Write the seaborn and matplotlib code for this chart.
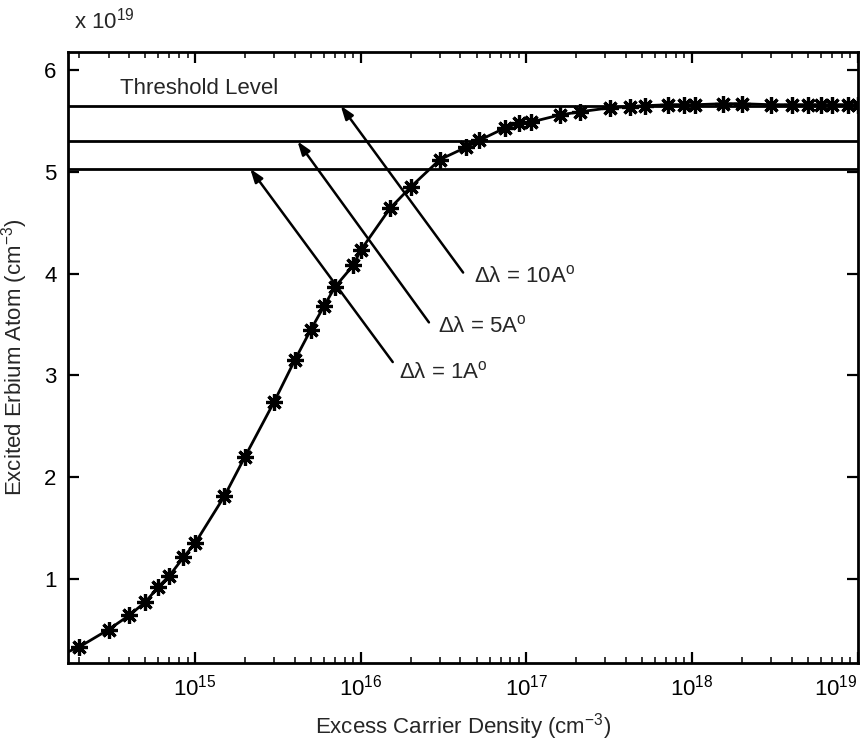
import numpy as np
import pandas as pd
import matplotlib
matplotlib.use("Agg")
import matplotlib.pyplot as plt
import seaborn as sns

# ---- data ----
carrier_density = [1.7e14, 2e14, 3e14, 4e14, 5e14, 6e14, 7e14, 8.5e14,
                   1e15, 1.5e15, 2e15, 3e15, 4e15, 5e15, 6e15, 7e15, 9e15,
                   1e16, 1.5e16, 2e16, 3e16, 4.3e16, 5.2e16, 7.4e16, 9e16,
                   1.07e17, 1.6e17, 2.1e17, 3.2e17, 4.2e17, 5.2e17, 7.2e17, 8.9e17,
                   1.05e18, 1.55e18, 2e18, 3e18, 4e18, 5e18, 6e18, 7e18, 8.7e18, 1e19]
excited_erbium = [0.28, 0.33, 0.50, 0.64, 0.77, 0.92, 1.03, 1.21,
                  1.35, 1.81, 2.20, 2.74, 3.15, 3.45, 3.68, 3.87, 4.08,
                  4.23, 4.64, 4.85, 5.12, 5.24, 5.31, 5.43, 5.48,
                  5.49, 5.56, 5.59, 5.63, 5.64, 5.65, 5.66, 5.66,
                  5.66, 5.67, 5.67, 5.66, 5.66, 5.66, 5.66, 5.66, 5.66, 5.66]
threshold_levels = [5.65, 5.30, 5.03]
threshold_labels = ["Δλ = 10A$^{\\mathrm{o}}$", "Δλ = 5A$^{\\mathrm{o}}$", "Δλ = 1A$^{\\mathrm{o}}$"]
arrow_heads_x = [7.57e15, 4.15e15, 2.15e15]
arrow_tails_x = [4.15e16, 2.58e16, 1.56e16]
arrow_tails_y = [4.01, 3.52, 3.13]
label_x = [4.84e16, 2.93e16, 1.7e16]
label_y = [3.97, 3.48, 3.03]
y_ticks = [1, 2, 3, 4, 5, 6]
x_ticks = [1e15, 1e16, 1e17, 1e18, 1e19]
x_ticklabels = ["10$^{15}$", "10$^{16}$", "10$^{17}$", "10$^{18}$", "10$^{19}$"]

df = pd.DataFrame({"n": carrier_density, "er": excited_erbium})

sns.set_style("ticks")
plt.rcParams["font.family"] = ["Liberation Sans", "DejaVu Sans"]
plt.rcParams["mathtext.fontset"] = "custom"
plt.rcParams["mathtext.rm"] = "Liberation Sans"
plt.rcParams["mathtext.it"] = "Liberation Sans"
plt.rcParams["mathtext.default"] = "regular"

fs = 16
fig = plt.figure(figsize=(8.68, 7.51), dpi=100)
ax = fig.add_axes([0.078, 0.117, 0.91, 0.814])

sns.lineplot(data=df, x="n", y="er", ax=ax, color="black", linewidth=2.0,
             marker=(8, 2, 0), markersize=12, markeredgewidth=2.3,
             markeredgecolor="black", markevery=list(range(1, len(df))))

for lvl in threshold_levels:
    ax.axhline(lvl, color="black", linewidth=2.0)

for hx, lvl, tx, ty in zip(arrow_heads_x, threshold_levels, arrow_tails_x, arrow_tails_y):
    ax.annotate("", xy=(hx, lvl), xytext=(tx, ty),
                arrowprops=dict(arrowstyle="-|>,head_length=0.8,head_width=0.28",
                                color="black", lw=1.8, shrinkA=0, shrinkB=0))

for lx, ly, txt in zip(label_x, label_y, threshold_labels):
    ax.text(lx, ly, txt, fontsize=fs, va="center", ha="left")

ax.text(3.5e14, 5.82, "Threshold Level", fontsize=fs, va="center", ha="left")

ax.set_xscale("log")
ax.set_xlim(1.7e14, 1e19)
ax.set_ylim(0.17, 6.18)
ax.set_xticks(x_ticks)
ax.set_xticklabels(x_ticklabels)
ax.set_yticks(y_ticks)
ax.set_yticklabels([str(t) for t in y_ticks])

for s in ax.spines.values():
    s.set_visible(True)
    s.set_linewidth(2.0)
    s.set_color("black")

ax.tick_params(axis="both", which="major", direction="in", length=8, width=1.6,
               top=True, right=True, labelsize=fs, pad=8, colors="black")
ax.tick_params(axis="x", which="minor", direction="in", length=4, width=1.3,
               top=True, bottom=True)
ax.tick_params(axis="y", which="minor", left=False, right=False)

# last x tick label kept inside the figure, as in the reference
ax.get_xticklabels()[-1].set_horizontalalignment("right")

ax.set_xlabel("Excess Carrier Density (cm$^{-3}$)", fontsize=fs, labelpad=8)
ax.set_ylabel("Excited Erbium Atom (cm$^{-3}$)", fontsize=fs, labelpad=10)

fig.text(0.085, 0.955, "x 10$^{19}$", fontsize=fs, ha="left", va="bottom")

fig.savefig("out.png", dpi=100, facecolor="white")
